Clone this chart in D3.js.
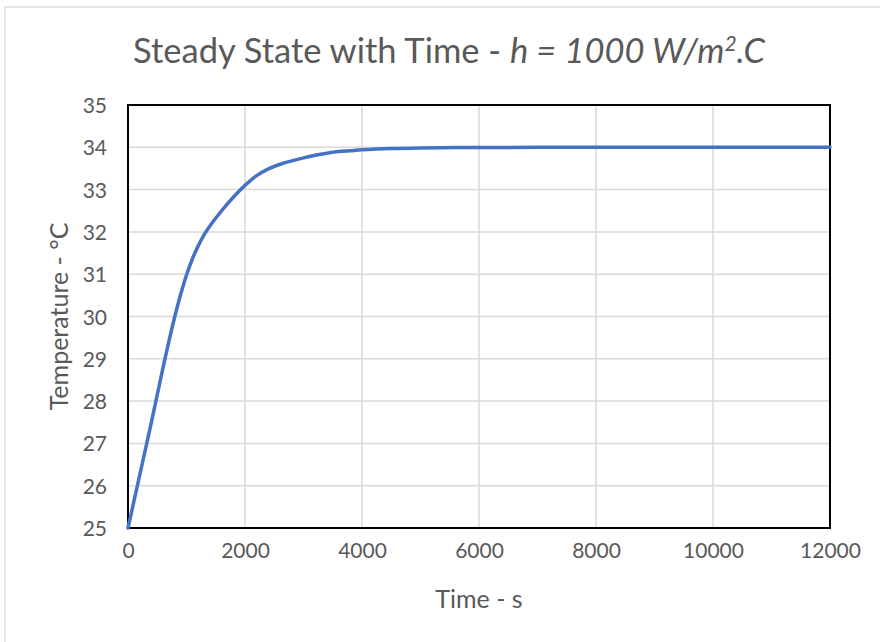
<!DOCTYPE html>
<html><head><meta charset="utf-8">
<script src="https://cdn.jsdelivr.net/npm/d3@7/dist/d3.min.js"></script>
<style>
html,body{margin:0;padding:0;background:#fff;}
svg{display:block;font-family:Lato,"Open Sans",sans-serif;}
</style></head>
<body><svg id="c" width="880" height="642"></svg>
<script>
const timeS = [0,200,400,600,800,900,1000,1100,1200,1300,1400,1600,1800,2000,2200,2400,2600,2800,3000,3200,3400,3600,3800,4000,4500,5000,6000,7000,8000,9000,10000,11000,12000];
const tempC = [25,26.25,27.5,28.8,30.0,30.52,30.98,31.36,31.67,31.93,32.14,32.5,32.82,33.1,33.33,33.49,33.6,33.68,33.75,33.81,33.86,33.9,33.92,33.94,33.97,33.985,33.995,34,34,34,34,34,34];
const xTicks = [0,2000,4000,6000,8000,10000,12000];
const yTicks = [25,26,27,28,29,30,31,32,33,34,35];

const svg = d3.select("#c");
const L=128, R=830, T=105, B=528;
const x = d3.scaleLinear().domain([0,12000]).range([L,R]);
const y = d3.scaleLinear().domain([25,35]).range([B,T]);
const txt="#595959";
const FONT = "Lato, 'Open Sans', sans-serif";

// chart outer border
svg.append("rect").attr("x",5).attr("y",7).attr("width",900).attr("height",700)
  .attr("fill","#fff").attr("stroke","#d9d9d9").attr("stroke-width",1.3);

// gridlines
svg.append("g").selectAll("line").data(yTicks).join("line")
  .attr("x1",L).attr("x2",R).attr("y1",d=>y(d)).attr("y2",d=>y(d))
  .attr("stroke","#d9d9d9").attr("stroke-width",1.5);
svg.append("g").selectAll("line").data(xTicks).join("line")
  .attr("y1",T).attr("y2",B).attr("x1",d=>x(d)).attr("x2",d=>x(d))
  .attr("stroke","#d9d9d9").attr("stroke-width",1.5);

// axes (labels)
const xa = svg.append("g").attr("transform",`translate(0,${B})`)
  .call(d3.axisBottom(x).tickValues(xTicks).tickSize(0).tickPadding(23).tickFormat(d3.format("d")));
xa.attr("font-family",null).attr("font-size",null);
xa.select(".domain").remove();
xa.selectAll("text").attr("fill",txt).style("font-family",FONT).style("font-size","21px").attr("dy","0.32em");
const ya = svg.append("g").attr("transform",`translate(${L},0)`)
  .call(d3.axisLeft(y).tickValues(yTicks).tickSize(0).tickPadding(21).tickFormat(d3.format("d")));
ya.attr("font-family",null).attr("font-size",null);
ya.select(".domain").remove();
ya.selectAll("text").attr("fill",txt).style("font-family",FONT).style("font-size","21px").attr("dy","0.36em");

// plot border
svg.append("rect").attr("x",L).attr("y",T).attr("width",R-L).attr("height",B-T)
  .attr("fill","none").attr("stroke","#000").attr("stroke-width",2);

// series
const line = d3.line().x((d,i)=>x(timeS[i])).y(d=>y(d)).curve(d3.curveCatmullRom.alpha(0.5));
svg.append("path").datum(tempC).attr("d",line).attr("fill","none")
  .attr("stroke","#4472c4").attr("stroke-width",3.5).attr("stroke-linecap","round").attr("stroke-linejoin","round");

// title
const t = svg.append("text").attr("x",449).attr("y",63).attr("text-anchor","middle")
  .attr("fill",txt).style("font-size","34.5px");
t.append("tspan").text("Steady State with Time - ");
t.append("tspan").style("font-style","italic").text("h = 1000 W/m");
t.append("tspan").style("font-style","italic").style("font-size","21px").attr("dy","-12").text("2");
t.append("tspan").style("font-style","italic").attr("dy","12").text(".C");

// axis titles
svg.append("text").attr("x",(L+R)/2).attr("y",608).attr("text-anchor","middle")
  .attr("fill",txt).style("font-size","25px").text("Time - s");
svg.append("text").attr("transform",`translate(68,${(T+B)/2}) rotate(-90)`).attr("text-anchor","middle")
  .attr("fill",txt).style("font-size","25px").text("Temperature - °C");
</script></body></html>
